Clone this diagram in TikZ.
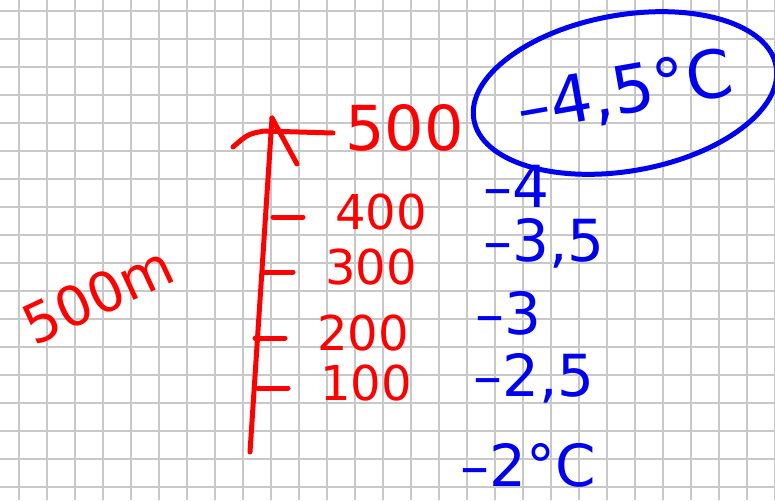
\documentclass[tikz,border=0pt]{standalone}
\usepackage{fontspec}
\setmainfont{DejaVu Sans}
\usetikzlibrary{shapes.geometric}
\definecolor{penred}{HTML}{FF0000}
\definecolor{penblue}{HTML}{0000F0}
\definecolor{gridgray}{HTML}{C8C8C8}
\tikzset{
  gridline/.style={draw=gridgray, line width=2pt},
  redstroke/.style={draw=penred, line width=5pt, line cap=round, line join=round},
  redlbl/.style={text=penred, inner sep=0pt, anchor=west, font=\fontsize{48}{48}\selectfont},
  bluelbl/.style={text=penblue, inner sep=0pt, anchor=west, font=\fontsize{58}{58}\selectfont},
  circled/.style={ellipse, draw=penblue, line width=5pt, text=penblue, inner sep=0pt, minimum width=278pt, minimum height=156pt}
}

\begin{document}
\begin{tikzpicture}[x=1pt, y=-1pt]
\useasboundingbox (0,0) rectangle (775,500);
\fill[white] (0,0) rectangle (775,500);
% squared paper
\foreach \gx in {0,...,27} \draw[gridline] (19.3+28*\gx,0) -- (19.3+28*\gx,500);
\foreach \gy in {0,...,17} \draw[gridline] (0,10.7+28*\gy) -- (775,10.7+28*\gy);

% height axis
\coordinate (base) at (250,452);
\coordinate (tip) at (272,118);
\draw[redstroke] (base) -- (tip);
\draw[redstroke] (233,147) .. controls (248,134) .. (264,131) -- (333,133);
\draw[redstroke] (tip) -- (297,164);
\node[redlbl, font=\fontsize{62}{62}\selectfont] (l500) at (345,128) {500};
\foreach \h/\tx/\ty in {400/273/217, 300/263/272, 200/255/338, 100/258/388} {
  \coordinate (t\h) at (\tx,\ty);
  \draw[redstroke] (t\h) -- ++(30,0);
  \node[redlbl] (l\h) at ([xshift=62pt, yshift=5pt]t\h) {\h};
}
\node[redlbl, anchor=center, rotate=25, font=\fontsize{55}{55}\selectfont] (height) at (98,295) {500m};

% temperatures
\node[circled, rotate=10, font=\fontsize{66}{66}\selectfont] (peak) at (625,93) {–4,5°C};
\node[bluelbl] (m4) at (483,186) {–4};
\node[bluelbl] (m35) at (483,243) {–3,5};
\node[bluelbl] (m3) at (475,313) {–3};
\node[bluelbl] (m25) at (473,378) {–2,5};
\node[bluelbl] (m2) at (460,465) {–2°C};
\end{tikzpicture}
\end{document}
